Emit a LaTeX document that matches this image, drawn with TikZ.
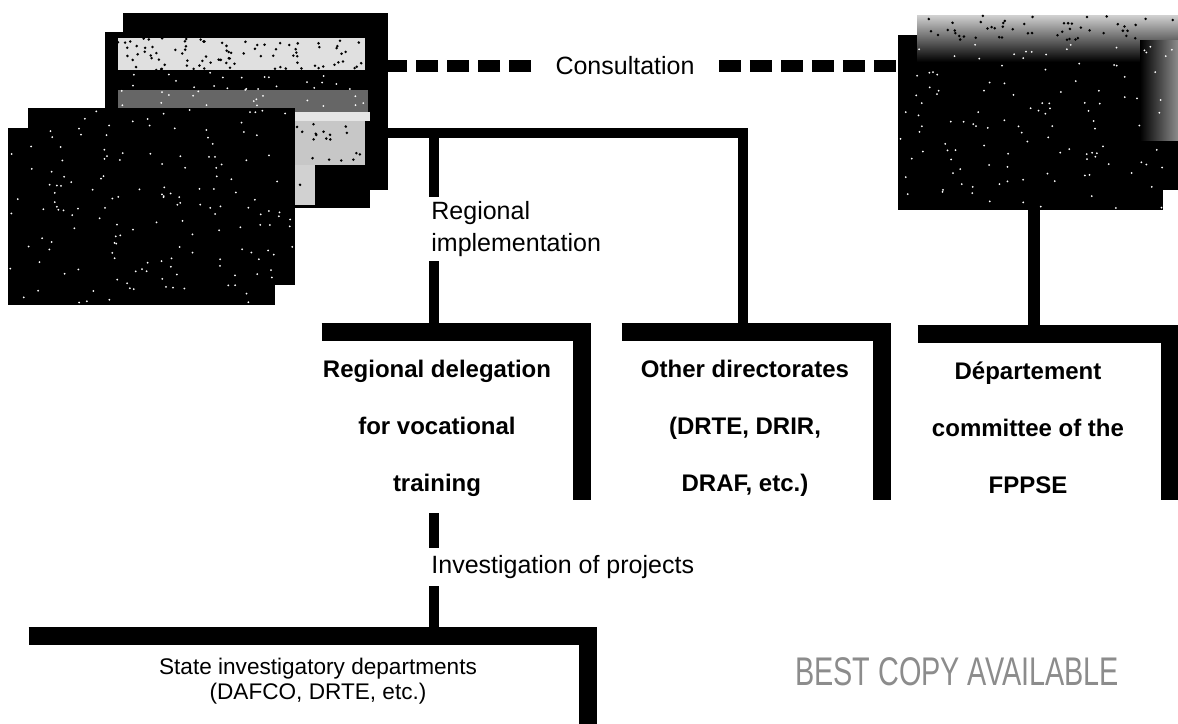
\documentclass[tikz,border=0pt]{standalone}
\usepackage{fontspec}
\setmainfont{Liberation Sans}
\usetikzlibrary{fit,calc}
\tikzset{
  card/.style={fill=black, draw=none, inner sep=0pt},
  frame/.style={draw=none, inner sep=0pt},
  lbar/.style={line width=9pt, line join=miter, line cap=butt},
  tree/.style={line width=5pt, line join=miter, line cap=butt},
  consult/.style={line width=6pt, dash pattern=on 11pt off 4.5pt},
  lab/.style={font=\fontsize{12.5}{16}\selectfont, inner sep=0pt, align=left},
  boxtext/.style={font=\bfseries\fontsize{12}{28.5}\selectfont, align=center, inner sep=0pt},
  sbtext/.style={font=\fontsize{11.3}{12.5}\selectfont, align=center, inner sep=0pt},
}
\begin{document}
\begin{tikzpicture}[x=0.5pt,y=-0.5pt]
\useasboundingbox (0,0) rectangle (1178,723);
\clip (0,0) rectangle (1178,723);
\pgfmathsetseed{7}
% ---- left stacked cards
\node[card, fit={(123,13) (388,190)}] (lbacks) {};
\node[card, fit={(105,32) (370,208)}] (lback) {};
\fill[black!12] (118,38) rectangle (365,70);
\fill[black!60] (118,90) rectangle (368,112);
\fill[black!10] (105,112) rectangle (370,121);
\fill[black!22] (275,121) rectangle (365,165);
\fill[black!18] (275,165) rectangle (315,205);
\foreach \i in {1,...,90} { \fill[black] ({118+247*rnd},{38+32*rnd}) circle (1.4); }
\foreach \i in {1,...,40} { \fill[black] ({275+90*rnd},{121+84*rnd}) circle (1.4); }
\foreach \i in {1,...,40} { \fill[white] ({120+245*rnd},{72+38*rnd}) circle (1); }
\node[card, fit={(28,108) (295,285)}] (lfronts) {};
\node[card, fit={(8,128) (275,305)}] (lfront) {};
\foreach \i in {1,...,160} { \fill[white] ({10+283*rnd},{110+193*rnd}) circle (1); }
% ---- right card
\node[card, fit={(917,15) (1190,190)}] (rcards) {};
\node[card, fit={(898,35) (1163,210)}] (rcard) {};
\shade[top color=black!18, bottom color=black] (917,15) rectangle (1178,62);
\shade[left color=black, right color=black!45] (1140,40) rectangle (1178,140);
\foreach \i in {1,...,50} { \fill[black] ({925+250*rnd},{15+25*rnd}) circle (1.4); }
\foreach \i in {1,...,120} { \fill[white] ({900+275*rnd},{40+168*rnd}) circle (1); }
% ---- consultation
\node[lab, inner xsep=12pt] (cons) at (625,66) {Consultation};
\draw[consult] (cons.west) -- (lbacks.east |- cons.west);
\draw[consult] (cons.east) -- (rcard.west |- cons.east);
% ---- boxes (L-shaped frames)
\node[frame, fit={(322,332.5) (581.5,500)}] (rd) {};
\node[frame, fit={(622,332.5) (881.5,500)}] (od) {};
\node[frame, fit={(918,334) (1170,500)}] (dp) {};
\node[frame, fit={(29,636) (588,780)}] (sb) {};
\foreach \b in {rd,od,dp,sb} { \draw[lbar] (\b.north west) -- (\b.north east) -- (\b.south east); }
\node[boxtext] (rdt) at (437,428) {Regional delegation\\for vocational\\training};
\node[boxtext] (odt) at (745,428) {Other directorates\\(DRTE, DRIR,\\DRAF, etc.)};
\node[boxtext] (dpt) at (1028,428) {Département\\committee of the\\FPPSE};
\node[sbtext] (sbt) at (318,681) {State investigatory departments\\(DAFCO, DRTE, etc.)};
% ---- regional implementation tree
\coordinate (h) at (743,133);
\coordinate (v1) at (434,133);
\node[lab, anchor=north west, inner ysep=2pt] (ri) at (431,197) {Regional\\implementation};
\draw[tree] (lbacks.east |- h) -- (h) -- (h |- od.north);
\draw[tree] (v1) -- (v1 |- ri.north);
\draw[tree] (v1 |- ri.south) -- (v1 |- rd.north);
% ---- right vertical
\draw[line width=6pt] ([xshift=1.75pt]rcard.south) -- ([xshift=1.75pt]rcard.south |- dp.north);
% ---- investigation
\coordinate (v2) at (434,513);
\node[lab, anchor=north west, inner ysep=3.5pt] (inv) at (431,548) {Investigation of projects};
\draw[tree] (v2) -- (v2 |- inv.north);
\draw[tree] (v2 |- inv.south) -- (v2 |- sb.north);
% ---- stamp
\node[font=\fontsize{20}{20}\selectfont, text=black!45, xscale=0.72, inner sep=0pt] (stamp) at (957,672) {BEST COPY AVAILABLE};
\end{tikzpicture}
\end{document}
